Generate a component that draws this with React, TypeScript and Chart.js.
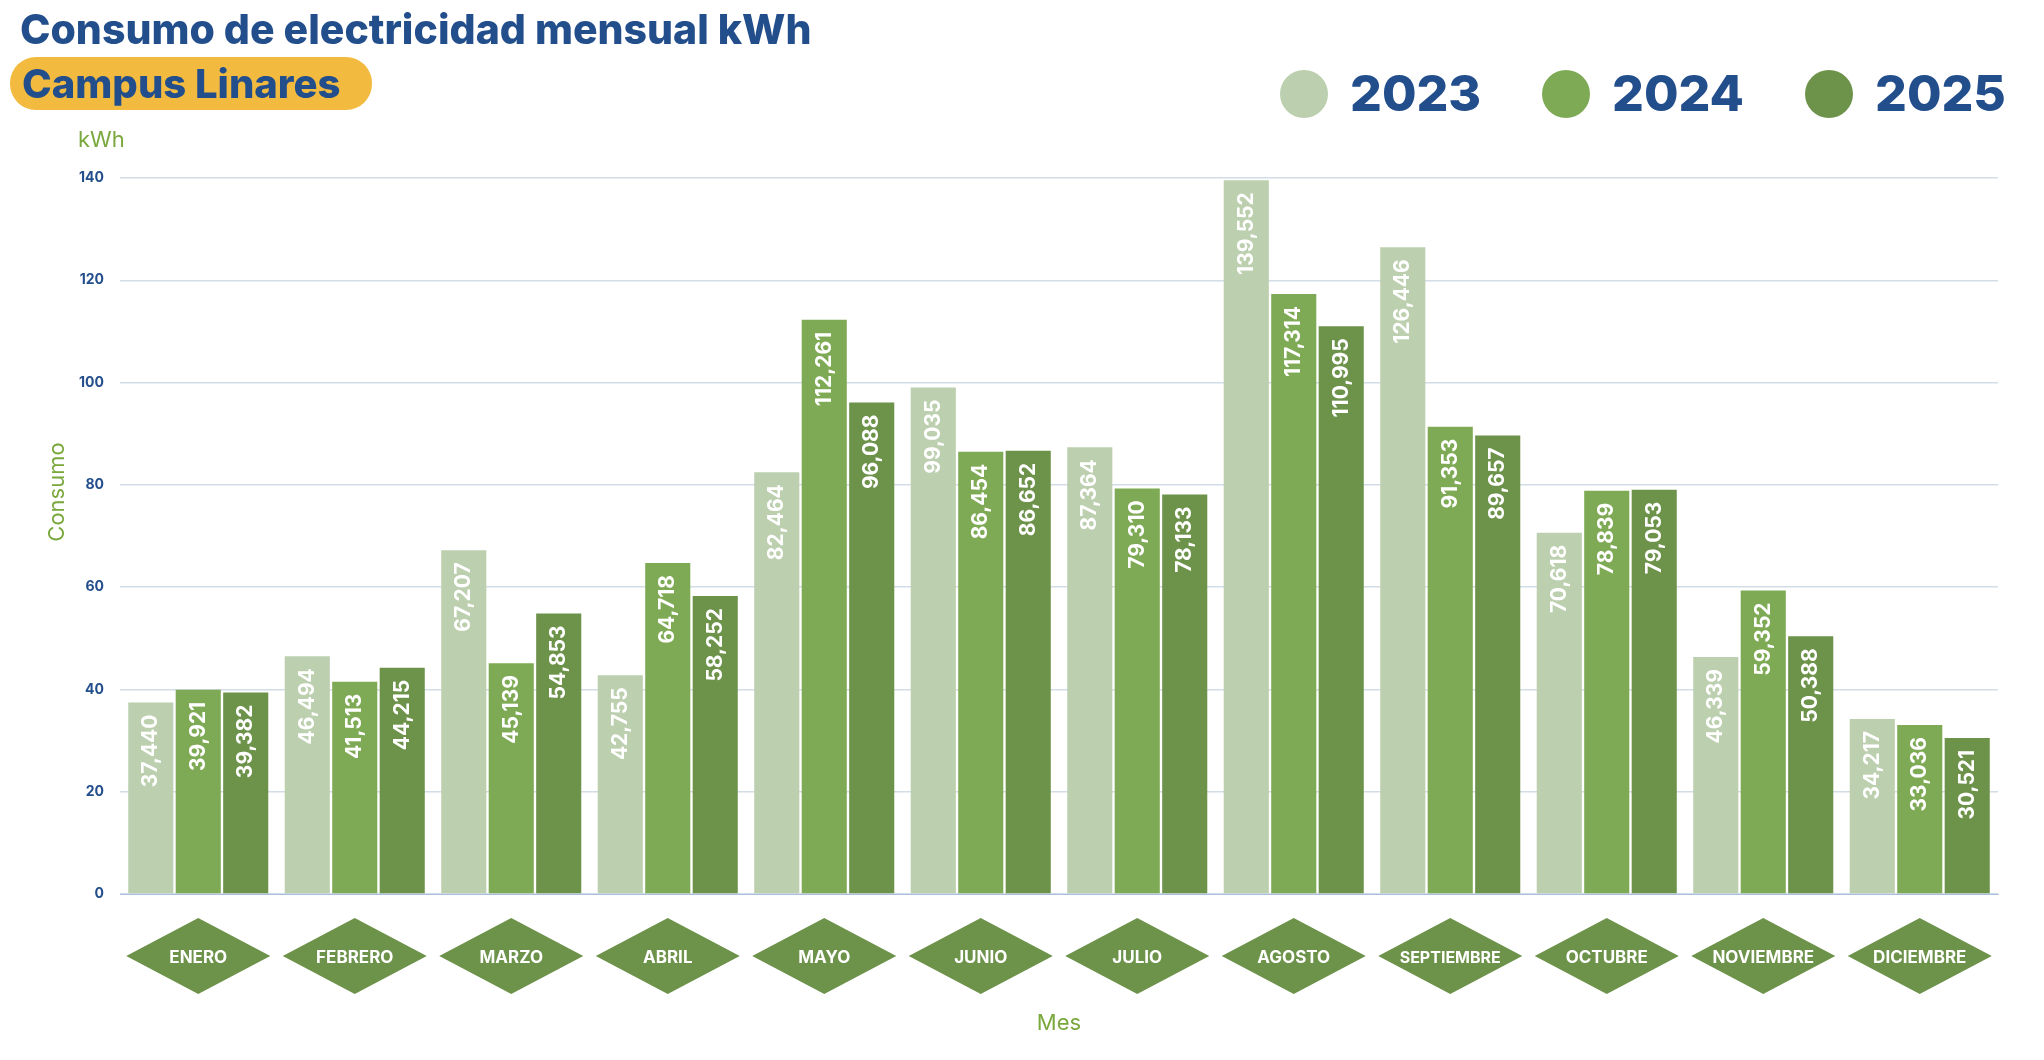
import React, { useEffect, useRef } from "react";
import { Chart, registerables } from "chart.js";
Chart.register(...registerables);

const months = ["ENERO","FEBRERO","MARZO","ABRIL","MAYO","JUNIO","JULIO","AGOSTO","SEPTIEMBRE","OCTUBRE","NOVIEMBRE","DICIEMBRE"];
const years = ["2023","2024","2025"];
const v2023 = [37.440,46.494,67.207,42.755,82.464,99.035,87.364,139.552,126.446,70.618,46.339,34.217];
const v2024 = [39.921,41.513,45.139,64.718,112.261,86.454,79.310,117.314,91.353,78.839,59.352,33.036];
const v2025 = [39.382,44.215,54.853,58.252,96.088,86.652,78.133,110.995,89.657,79.053,50.388,30.521];
const colors = ["#bccfae","#7faa55","#6d924a"];
const BLUE = "#234e8c";
const GREEN_T = "#7aa83c";
const FONT = "Inter, 'Open Sans', sans-serif";

const decor = {
  id: "decor",
  afterDatasetsDraw(chart: any) {
    const ctx = chart.ctx;
    ctx.save();
    chart.data.datasets.forEach((ds: any, di: number) => {
      const meta = chart.getDatasetMeta(di);
      meta.data.forEach((bar: any, i: number) => {
        const val = ds.data[i];
        const txt = Math.round(val * 1000).toLocaleString("en-US");
        ctx.save();
        ctx.translate(bar.x, bar.y + 12);
        ctx.rotate(-Math.PI / 2);
        ctx.fillStyle = "#ffffff";
        ctx.font = `700 21px ${FONT}`;
        ctx.textAlign = "right";
        ctx.textBaseline = "middle";
        ctx.fillText(txt, 0, 0);
        ctx.restore();
      });
    });
    const xs = chart.scales.x;
    months.forEach((m, i) => {
      const cx = xs.getPixelForValue(i);
      const cy = 956;
      ctx.fillStyle = "#6d924a";
      ctx.beginPath();
      ctx.moveTo(cx - 72, cy);
      ctx.lineTo(cx, cy - 38);
      ctx.lineTo(cx + 72, cy);
      ctx.lineTo(cx, cy + 38);
      ctx.closePath();
      ctx.fill();
      let fs = 17;
      ctx.font = `700 ${fs}px ${FONT}`;
      while (ctx.measureText(m).width > 104 && fs > 10) { fs--; ctx.font = `700 ${fs}px ${FONT}`; }
      ctx.fillStyle = "#fff";
      ctx.textAlign = "center";
      ctx.textBaseline = "middle";
      ctx.fillText(m, cx, cy + 2);
    });
    ctx.fillStyle = GREEN_T;
    ctx.font = `400 22px ${FONT}`;
    ctx.textAlign = "center";
    ctx.fillText("Mes", (chart.chartArea.left + chart.chartArea.right) / 2, 1023);
    ctx.textAlign = "left";
    ctx.fillText("kWh", 78, 140);
    ctx.save();
    ctx.translate(57, 492);
    ctx.rotate(-Math.PI / 2);
    ctx.textAlign = "center";
    ctx.textBaseline = "middle";
    ctx.fillText("Consumo", 0, 0);
    ctx.restore();
    ctx.fillStyle = BLUE;
    ctx.textBaseline = "alphabetic";
    ctx.font = `800 41px ${FONT}`;
    ctx.fillText("Consumo de electricidad mensual kWh", 20, 44);
    ctx.fillStyle = "#f2bb40";
    ctx.beginPath();
    ctx.roundRect(10, 57, 362, 53, 26);
    ctx.fill();
    ctx.fillStyle = BLUE;
    ctx.font = `800 40px ${FONT}`;
    ctx.fillText("Campus Linares", 22, 98);
    const lx = [1304, 1566, 1829];
    years.forEach((y, i) => {
      ctx.fillStyle = colors[i];
      ctx.beginPath();
      ctx.arc(lx[i], 94, 24, 0, Math.PI * 2);
      ctx.fill();
      ctx.fillStyle = BLUE;
      ctx.font = `800 50px ${FONT}`;
      ctx.textBaseline = "middle";
      ctx.fillText(y, lx[i] + 46, 96);
    });
    ctx.restore();
  },
};

export default function App() {
  const ref = useRef<HTMLCanvasElement>(null);
  useEffect(() => {
    document.body.style.margin = "0";
    const chart = new Chart(ref.current!, {
      type: "bar",
      data: {
        labels: months,
        datasets: [v2023, v2024, v2025].map((d, i) => ({
          label: years[i],
          data: d,
          backgroundColor: colors[i],
          barPercentage: 0.95,
          categoryPercentage: 0.91,
        })),
      },
      options: {
        animation: false,
        responsive: false,
        layout: { padding: { left: 0, top: 178, right: 46, bottom: 158 } },
        plugins: { legend: { display: false }, tooltip: { enabled: false } },
        scales: {
          x: {
            grid: { display: false },
            ticks: { display: false },
            border: { color: "#a9c0dd", width: 1 },
          },
          y: {
            min: 0,
            max: 140,
            ticks: { stepSize: 20, color: BLUE, font: { family: FONT, size: 14, weight: "bold" }, padding: 16 },
            grid: { color: "#d3dde8", lineWidth: 1.5, drawTicks: false },
            border: { display: false },
            afterFit: (s: any) => { s.width = 120; },
          },
        },
      },
      plugins: [decor],
    });
    return () => chart.destroy();
  }, []);
  return <canvas ref={ref} width={2044} height={1060} style={{ display: "block" }} />;
}
